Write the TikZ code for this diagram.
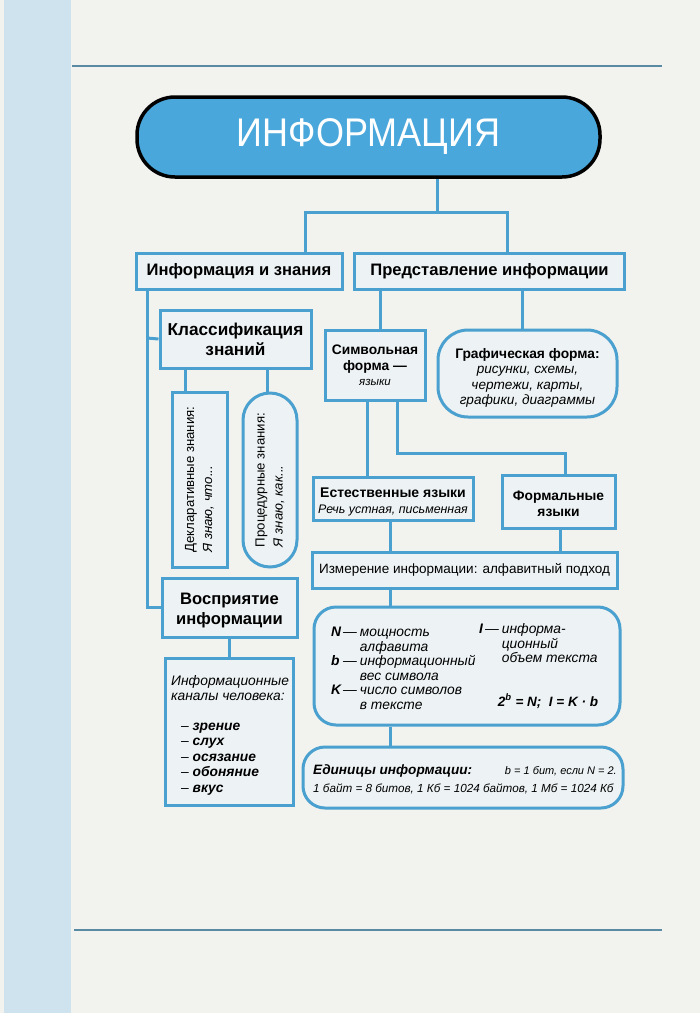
\documentclass[tikz,border=0pt]{standalone}
\usepackage{fontspec}
\usepackage{graphicx}
\setmainfont{Liberation Sans}
\definecolor{boxblue}{HTML}{4AA0CE}
\definecolor{pillblue}{HTML}{49A7DB}
\definecolor{boxfill}{HTML}{EDF2F4}
\definecolor{paper}{HTML}{F2F2EF}
\definecolor{strip}{HTML}{CFE3EE}
\definecolor{rulecol}{HTML}{5B8AA5}
% text block set a little lower in its box
\newcommand{\boxtext}[2][3pt]{\raisebox{-#1}[\height][\depth]{\begin{tabular}{@{}c@{}}#2\end{tabular}}}

\begin{document}
\begin{tikzpicture}[x=1pt, y=-1pt,
    every node/.style={align=center, inner sep=0pt},
    blk/.style={draw=boxblue, line width=3pt, fill=boxfill},
    link/.style={boxblue, line width=3pt},
    big/.style={font=\bfseries\fontsize{16.6}{19.5}\selectfont},
    mid/.style={font=\bfseries\fontsize{13.8}{15.5}\selectfont},
    sz/.style 2 args={minimum width=#1, minimum height=#2}]

    % page
    \fill[paper] (0,0) rectangle (700,1013);
    \fill[strip] (4,0) rectangle (71,1013);
    \draw[rulecol, line width=1.4pt] (72,66) -- (662,66);
    \draw[rulecol, line width=1.4pt] (74,930) -- (662,930);

    % title
    \node[draw=black, line width=3.5pt, fill=pillblue, rounded corners=38pt, sz={463pt}{80pt},
          text=white, font=\fontsize{40}{40}\selectfont] (title) at (368.5,137) {\scalebox{0.9}[1]{ИНФОРМАЦИЯ}};

    % left branch
    \node[blk, sz={206pt}{36pt}, big] (know) at (239,271) {Информация и знания};
    \node[blk, sz={151pt}{58pt}, font=\bfseries\fontsize{17.2}{19.5}\selectfont] (class) at (235.5,339)
        {\boxtext[2.5pt]{Классификация\\знаний}};
    \node[blk, sz={55pt}{175pt}, font=\fontsize{13.2}{18}\selectfont] (decl) at (199.5,479.5)
        {\rotatebox{90}{\begin{tabular}{@{}l@{}}Декларативные знания:\\\itshape Я знаю, что...\end{tabular}}};
    \node[blk, rounded corners=27pt, sz={54pt}{174pt}, font=\fontsize{13.2}{18}\selectfont] (proc) at (270,480)
        {\rotatebox{90}{\begin{tabular}{@{}l@{}}Процедурные знания:\\\itshape Я знаю, как...\end{tabular}}};
    \node[blk, sz={135pt}{59pt}, big] (perc) at (229.5,607.5) {\boxtext{Восприятие\\информации}};
    \node[blk, sz={128pt}{147pt}] (chan) at (229,731.5) {};
    \node[anchor=north west, align=left, font=\itshape\fontsize{13.8}{15.5}\selectfont] (chanTxt) at (171,675)
        {Информационные\\каналы человека:\\[14pt]
         \hspace*{10pt}– \textbf{зрение}\\
         \hspace*{10pt}– \textbf{слух}\\
         \hspace*{10pt}– \textbf{осязание}\\
         \hspace*{10pt}– \textbf{обоняние}\\
         \hspace*{10pt}– \textbf{вкус}};

    % right branch
    \node[blk, sz={270pt}{36pt}, big] (repr) at (489.5,271) {Представление информации};
    \node[blk, sz={100pt}{70pt}, font=\bfseries\fontsize{13.8}{15.8}\selectfont] (sym) at (375,365)
        {\boxtext[2pt]{Символьная\\форма —\\{\mdseries\itshape\fontsize{11.5}{15.8}\selectfont языки}}};
    \node[blk, rounded corners=30pt, sz={179pt}{87pt}, mid] (graph) at (527.5,373.5)
        {\boxtext[5pt]{Графическая форма:\\{\mdseries\itshape\fontsize{13.6}{15.5}\selectfont рисунки, схемы,}\\
         {\mdseries\itshape\fontsize{13.6}{15.5}\selectfont чертежи, карты,}\\
         {\mdseries\itshape\fontsize{13.6}{15.5}\selectfont графики, диаграммы}}};
    \node[blk, sz={160pt}{43pt}, font=\bfseries\fontsize{14}{15.5}\selectfont] (nat) at (393,498.5)
        {\boxtext[4pt]{Естественные языки\\{\mdseries\itshape\fontsize{12.4}{15.5}\selectfont Речь устная, письменная}}};
    \node[blk, sz={113pt}{53pt}, mid] (form) at (558.5,501.5) {\boxtext[4pt]{Формальные\\языки}};
    \node[blk, sz={305pt}{36pt}, font=\fontsize{13.5}{15}\selectfont] (meas) at (464.5,570)
        {\raisebox{-2pt}{Измерение информации: алфавитный подход}};

    % formulas
    \node[blk, rounded corners=22pt, sz={306pt}{118pt}] (calc) at (467,666) {};
    \node[anchor=north west, font=\itshape\fontsize{13.8}{14.6}\selectfont] (calcL) at (331,626)
        {\begin{tabular}{@{}l@{\hspace{2pt}}l@{\hspace{3pt}}l@{}}
         \textbf{N} & — & мощность\\ & & алфавита\\
         \textbf{b} & — & информационный\\ & & вес символа\\
         \textbf{K} & — & число символов\\ & & в тексте
         \end{tabular}};
    \node[anchor=north west, font=\itshape\fontsize{13.8}{14.6}\selectfont] (calcR) at (479,623)
        {\begin{tabular}{@{}l@{\hspace{2pt}}l@{\hspace{3pt}}l@{}}
         \textbf{I} & — & информа-\\ & & ционный\\ & & объем текста
         \end{tabular}};
    \node[font=\bfseries\itshape\fontsize{13.5}{15}\selectfont] (calcEq) at (548,701) {2\textsuperscript{b} = N;\ \ I = K · b};

    % units
    \node[blk, rounded corners=22pt, sz={320pt}{61pt}] (units) at (463,777.5) {};
    \node[anchor=west, font=\bfseries\itshape\fontsize{13.6}{16}\selectfont] (unitsHd) at (313,771) {Единицы информации:};
    \node[anchor=east, font=\itshape\fontsize{11}{12}\selectfont] (unitsB) at (617,771) {b = 1 бит, если N = 2.};
    \node[anchor=west, font=\itshape\fontsize{11.7}{13}\selectfont] (unitsRow) at (313,789)
        {1 байт = 8 битов, 1 Кб = 1024 байтов, 1 Мб = 1024 Кб};

    % connectors
    \coordinate (hub) at (437,212);
    \coordinate (hubL) at (305,212);
    \coordinate (hubR) at (507,212);
    \draw[link] (title.south -| hub) -- (hub);
    \draw[link] (know.north -| hubL) -- (hubL) -- (hubR) -- (repr.north -| hubR);

    \coordinate (spine) at (147,338);
    \draw[link] (know.south -| spine) |- (perc.west);
    \draw[link] (spine) -- (class.west);
    \coordinate (declTop) at ([xshift=-14.5pt]decl.north);
    \coordinate (procTop) at ([xshift=-3pt]proc.north);
    \draw[link] (declTop) -- (declTop |- class.south);
    \draw[link] (procTop) -- (procTop |- class.south);
    \draw[link] (perc.south) -- (perc.south |- chan.north);

    \coordinate (symTop) at ([xshift=5pt]sym.north);
    \coordinate (graphTop) at ([xshift=-5.5pt]graph.north);
    \draw[link] (symTop) -- (symTop |- repr.south);
    \draw[link] (graphTop) -- (graphTop |- repr.south);

    \coordinate (natTop) at ([xshift=-26pt]nat.north);
    \draw[link] (natTop) -- (natTop |- sym.south);
    \coordinate (knee) at (397,453);
    \draw[link] (sym.south -| knee) -- (knee) -| ([xshift=6.5pt]form.north);

    \coordinate (natFoot) at ([xshift=-3pt]nat.south);
    \coordinate (formFoot) at ([xshift=1.5pt]form.south);
    \draw[link] (natFoot) -- (natFoot |- meas.north);
    \draw[link] (formFoot) -- (formFoot |- meas.north);
    \draw[link] (meas.south -| natFoot) -- (calc.north -| natFoot);
    \draw[link] (calc.south -| natFoot) -- (units.north -| natFoot);
\end{tikzpicture}
\end{document}
